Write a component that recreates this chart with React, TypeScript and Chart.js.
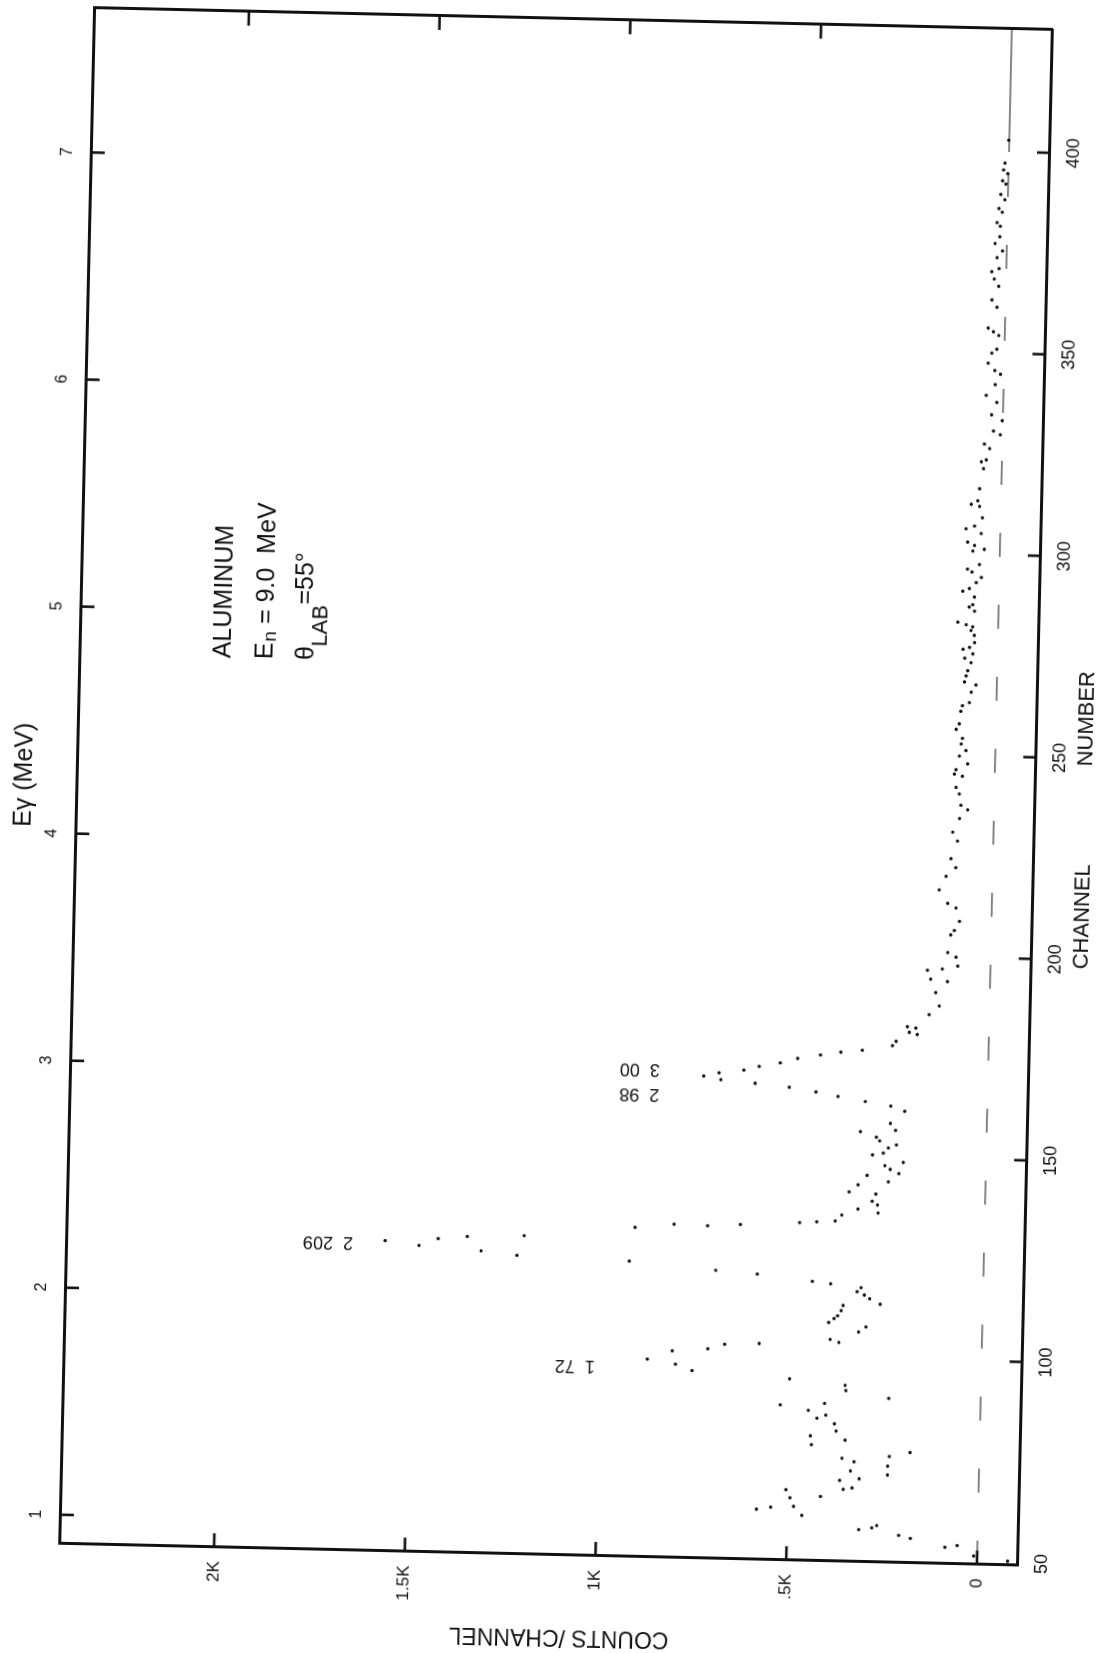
import React, { useEffect, useRef } from "react";
import { Chart, registerables } from "chart.js";

Chart.register(...registerables);

// ---- data: channel number -> counts per channel ----
// low-energy part with the 1.72, 2.209 and 2.98/3.00 MeV peaks
const PEAK_CHANNELS = [
  50.5, 51.6, 53.6, 54.1, 55.6, 56.3, 57.5, 58.0, 58.6,
  60.7, 62.0, 62.6, 62.9, 65.0, 65.5, 67.0, 67.4, 67.8, 69.6, 70.1, 71.2, 72.0, 73.4, 74.3, 75.1, 75.8, 76.9,
  78.3, 79.6, 80.5, 81.8, 83.6, 84.9, 85.7, 86.8, 88.0, 88.6, 90.2, 91.9, 93.2, 94.5, 96.0, 97.5, 98.6,
  100.8, 101.5, 102.7, 103.1, 103.8, 104.5, 106.5, 107.8, 108.7, 109.7, 110.4, 111.7, 113.0, 113.5, 114.8,
  115.7, 116.5, 117.5, 118.3, 118.8, 120.3, 121.0, 122.8, 123.6, 124.5, 125.5, 126.5, 127.3, 128.0, 128.5,
  131.2, 132.0, 132.2, 132.5, 133.3, 133.6, 133.9, 135.4, 136.1, 137.0, 138.1, 139.0, 140.8, 141.2, 143.0,
  143.9, 145.4, 146.0, 147.0, 147.9, 148.8, 150.5, 151.0, 152.3, 153.1, 154.0, 154.9, 156.2, 156.7, 158.4, 161.5,
  162.7, 163.7, 164.8, 165.8, 166.8, 167.6, 168.3, 169.1, 170.0, 170.8, 171.8, 172.8, 174.0, 175.0, 175.8,
  176.4, 177.7, 178.8,
];
const PEAK_COUNTS = [
  -80, 9, 85, 53, 176, 207, 312, 278, 265,
  462, 581, 544, 484, 494, 414, 505, 355, 332, 365, 314, 240, 337, 240, 328, 360, 236, 182,
  441, 353, 444, 377, 382, 428, 405, 451, 525, 409, 241, 354, 356, 502, 758, 802, 876,
  811, 718, 674, 584, 375, 398, 324, 305, 403, 389, 380, 371, 366, 269, 297,
  311, 330, 320, 400, 448, 593, 702, 929, 1224, 1318, 1481, 1570, 1431, 1355, 1206,
  916, 726, 814, 640, 485, 440, 392, 375, 280, 333, 282, 296, 287, 357, 334,
  255, 311, 228, 251, 265, 217, 298, 270, 257, 236, 280, 289, 331, 239, 253, 216,
  253, 320, 392, 450, 520, 610, 700, 745, 705, 640, 600, 545, 500, 440, 387,
  331, 252, 243,
];
// Compton continuum above the 3 MeV peak
const CONTINUUM_CHANNELS = [
  180.6, 181.1, 182.2, 182.5, 185.6, 187.8, 191.1, 193.9, 194.4, 196.6, 197.0, 197.8, 200.0, 201.1, 205.5,
  206.6, 208.9, 212.2, 213.3, 216.6, 220.0, 222.2, 224.4, 228.8, 231.0, 234.4, 236.6, 237.7, 240.5, 242.1,
  244.9, 245.4, 246.5, 248.0, 249.9, 251.3, 252.9, 254.3, 256.5, 257.9, 261.0, 262.4, 263.2, 265.8, 267.6,
  268.3, 269.8, 271.1, 273.1, 274.2, 275.3, 276.4, 276.9, 278.1, 279.9, 281.1, 282.0, 282.5, 283.1, 285.9,
  286.9, 287.5, 289.4, 290.8, 291.5, 293.0, 294.3, 295.6, 296.3, 297.5, 300.8, 301.3, 302.2, 303.0, 305.2,
  306.3, 307.0, 309.1, 311.9, 312.4, 313.3, 316.3, 321.3, 323.0, 323.5, 326.3, 327.4,
];
const CONTINUUM_COUNTS = [
  188, 209, 192, 214, 158, 132, 142, 112, 156, 165, 126, 86, 91, 113, 106,
  97, 84, 94, 116, 139, 122, 97, 110, 94, 107, 90, 69, 87, 92, 101,
  85, 106, 102, 72, 94, 77, 90, 87, 104, 96, 93, 89, 71, 67, 55,
  85, 81, 77, 69, 86, 65, 91, 74, 61, 62, 71, 67, 84, 106, 63,
  77, 68, 64, 95, 78, 60, 47, 72, 84, 53, 71, 41, 67, 85, 50,
  90, 68, 48, 56, 78, 61, 57, 48, 54, 41, 33, 47,
];
// high-energy tail
const TAIL_CHANNELS = [
  329.8, 330.7, 333.3, 334.7, 337.8, 339.5, 342.2, 344.8, 345.7, 347.5, 350.0, 351.0, 354.4, 355.3, 356.2,
  361.4, 363.2, 366.6, 368.4, 370.2, 371.0, 373.7, 375.4, 377.2, 378.9, 381.5, 382.4, 385.0, 385.9, 388.1,
  389.4, 392.0, 392.8, 394.6, 395.5, 397.2, 402.9,
];
const TAIL_COUNTS = [
  6, 24, 2, 30, 17, 45, 22, 9, 24, 42, 33, 20, 16, 30, 44,
  22, 36, 19, 31, 38, 19, 25, 11, 31, 19, 18, 27, 14, 23, 8,
  19, 6, 15, 2, 13, 10, 1,
];

// ---- axes ----
const CHANNEL_RANGE = [49.5, 430.5];
const COUNT_RANGE = [-105, 2406];
const CHANNEL_TICKS = [50, 100, 150, 200, 250, 300, 350, 400];
const COUNT_TICKS = [0, 500, 1000, 1500, 2000];
const COUNT_TICK_LABELS = ["0", ".5K", "1K", "1.5K", "2K"];
const ENERGY_TICKS = [1, 2, 3, 4, 5, 6, 7];
const CHANNELS_PER_MEV = 56.33;
const CHANNEL_AT_ZERO_MEV = 0.37;
const BASELINE_DASHED = [49.5, 400];
const BASELINE_SOLID = [400, 430.5];

// ---- annotations (data coordinates) ----
const PEAK_LABELS = ["2  209", "1  72", "3  00", "2  98"];
const PEAK_LABEL_CHANNELS = [125.8, 96.6, 170.5, 164.3];
const PEAK_LABEL_COUNTS = [1654, 1013, 860, 860];

const INFO_CHANNEL = 270;
const INFO_COUNTS = [2029, 1919, 1806];

const FONT = "'Liberation Sans', Arial, sans-serif";
const INK = "#111";

// ---- layout (landscape chart, rotated onto the portrait page) ----
const W = 1646;
const H = 1113;
const AXIS_LEFT = 100;
const AXIS_RIGHT = 10;
const AXIS_TOP = 90;
const AXIS_BOTTOM = 65;
const ROTATION_DEG = -88.7;
const FRAME_CENTER = [555.5, 787];

function placement() {
  const areaCx = AXIS_LEFT + (W - AXIS_LEFT - AXIS_RIGHT) / 2;
  const areaCy = AXIS_TOP + (H - AXIS_TOP - AXIS_BOTTOM) / 2;
  const du = areaCx - W / 2;
  const dv = areaCy - H / 2;
  const th = (ROTATION_DEG * Math.PI) / 180;
  const ox = du * Math.cos(th) - dv * Math.sin(th);
  const oy = du * Math.sin(th) + dv * Math.cos(th);
  const cx = FRAME_CENTER[0] - ox;
  const cy = FRAME_CENTER[1] - oy;
  return { left: cx - W / 2, top: cy - H / 2 };
}

const decorations = {
  id: "decorations",
  afterDraw(chart: any) {
    const { ctx, chartArea: a, scales } = chart;
    ctx.save();
    ctx.strokeStyle = INK;
    ctx.fillStyle = INK;
    ctx.lineWidth = 2.6;
    ctx.lineCap = "butt";
    const seg = (x1: number, y1: number, x2: number, y2: number) => {
      ctx.beginPath();
      ctx.moveTo(x1, y1);
      ctx.lineTo(x2, y2);
      ctx.stroke();
    };
    // inward tick marks
    for (const v of CHANNEL_TICKS) {
      if (v === 50) continue;
      const x = scales.x.getPixelForValue(v);
      seg(x, a.bottom, x, a.bottom - 12);
    }
    for (const v of ENERGY_TICKS) {
      const x = scales.x2.getPixelForValue(v);
      seg(x, a.top, x, a.top + 14);
    }
    for (const v of COUNT_TICKS) {
      const y = scales.y.getPixelForValue(v);
      seg(a.left, y, a.left + 14, y);
      if (v !== 0) {
        const y2 = scales.y2.getPixelForValue(v);
        seg(a.right, y2, a.right - 14, y2);
      }
    }
    // info block
    const px = scales.x.getPixelForValue(INFO_CHANNEL);
    ctx.textAlign = "left";
    ctx.textBaseline = "middle";
    ctx.font = `25px ${FONT}`;
    ctx.fillText("ALUMINUM", px, scales.y.getPixelForValue(INFO_COUNTS[0]));
    let y = scales.y.getPixelForValue(INFO_COUNTS[1]);
    let x = px;
    ctx.fillText("E", x, y);
    x += ctx.measureText("E").width;
    ctx.font = `19px ${FONT}`;
    ctx.fillText("n", x + 1, y + 5);
    x += ctx.measureText("n").width + 1;
    ctx.font = `25px ${FONT}`;
    ctx.fillText(" = 9.0  MeV", x, y);
    y = scales.y.getPixelForValue(INFO_COUNTS[2]);
    x = px;
    ctx.fillText("\u03B8", x, y - 2);
    x += ctx.measureText("\u03B8").width;
    ctx.font = `22px ${FONT}`;
    ctx.fillText("LAB", x, y + 12);
    x += ctx.measureText("LAB").width;
    ctx.font = `25px ${FONT}`;
    ctx.fillText("=55\u00B0", x, y - 4);
    // peak labels (vertical)
    ctx.font = `18px ${FONT}`;
    PEAK_LABELS.forEach((t, i) => {
      const lx = scales.x.getPixelForValue(PEAK_LABEL_CHANNELS[i]);
      const ly = scales.y.getPixelForValue(PEAK_LABEL_COUNTS[i]);
      ctx.save();
      ctx.translate(lx, ly);
      ctx.rotate(-Math.PI / 2);
      ctx.textAlign = "left";
      ctx.textBaseline = "middle";
      ctx.fillText(t, 0, 0);
      ctx.restore();
    });
    ctx.restore();
  },
};

export default function App() {
  const ref = useRef<HTMLCanvasElement | null>(null);
  useEffect(() => {
    if (!ref.current) return;
    const channels = [...PEAK_CHANNELS, ...CONTINUUM_CHANNELS, ...TAIL_CHANNELS];
    const counts = [...PEAK_COUNTS, ...CONTINUUM_COUNTS, ...TAIL_COUNTS];
    const points = channels.map((c, i) => ({ x: c, y: counts[i] }));
    const chart = new Chart(ref.current, {
      type: "scatter",
      data: {
        datasets: [
          {
            type: "line",
            data: BASELINE_DASHED.map((c) => ({ x: c, y: 0 })),
            borderColor: INK,
            borderWidth: 1,
            borderDash: [24, 48],
            pointRadius: 0,
            xAxisID: "x",
            yAxisID: "y",
          } as any,
          {
            type: "line",
            data: BASELINE_SOLID.map((c) => ({ x: c, y: 0 })),
            borderColor: INK,
            borderWidth: 1.1,
            pointRadius: 0,
            xAxisID: "x",
            yAxisID: "y",
          } as any,
          {
            data: points,
            pointRadius: 1.7,
            pointBackgroundColor: INK,
            pointBorderWidth: 0,
            showLine: false,
            xAxisID: "x",
            yAxisID: "y",
          },
        ],
      },
      options: {
        responsive: false,
        animation: false,
        events: [],
        layout: { padding: 0, autoPadding: false } as any,
        plugins: {
          legend: { display: false },
          tooltip: { enabled: false },
          title: { display: false },
        },
        scales: {
          x: {
            type: "linear",
            position: "bottom",
            min: CHANNEL_RANGE[0],
            max: CHANNEL_RANGE[1],
            afterBuildTicks: (s: any) => {
              s.ticks = CHANNEL_TICKS.map((v) => ({ value: v }));
            },
            afterFit: (s: any) => {
              s.height = AXIS_BOTTOM;
            },
            grid: { display: false, drawTicks: false },
            border: { display: true, color: INK, width: 3 },
            ticks: {
              color: INK,
              font: { family: FONT, size: 18 },
              padding: 14,
              maxRotation: 0,
              autoSkip: false,
              callback: (v: any) => String(v),
            },
            title: {
              display: true,
              text: "CHANNEL" + " ".repeat(16) + "NUMBER" + " ".repeat(7),
              color: INK,
              font: { family: FONT, size: 22 },
              padding: { top: 0, bottom: 1 },
            },
          },
          x2: {
            type: "linear",
            position: "top",
            min: (CHANNEL_RANGE[0] - CHANNEL_AT_ZERO_MEV) / CHANNELS_PER_MEV,
            max: (CHANNEL_RANGE[1] - CHANNEL_AT_ZERO_MEV) / CHANNELS_PER_MEV,
            afterBuildTicks: (s: any) => {
              s.ticks = ENERGY_TICKS.map((v) => ({ value: v }));
            },
            afterFit: (s: any) => {
              s.height = AXIS_TOP;
            },
            grid: { display: false, drawTicks: false },
            border: { display: true, color: INK, width: 3 },
            ticks: {
              color: INK,
              font: { family: FONT, size: 16 },
              padding: 14,
              maxRotation: 0,
              autoSkip: false,
              callback: (v: any) => String(v),
            },
            title: {
              display: true,
              text: "E\u03B3 (MeV)",
              color: INK,
              font: { family: FONT, size: 25 },
              padding: { top: 23, bottom: 0 },
            },
          },
          y: {
            type: "linear",
            position: "left",
            min: COUNT_RANGE[0],
            max: COUNT_RANGE[1],
            afterBuildTicks: (s: any) => {
              s.ticks = COUNT_TICKS.map((v) => ({ value: v }));
            },
            afterFit: (s: any) => {
              s.width = AXIS_LEFT;
            },
            grid: { display: false, drawTicks: false },
            border: { display: true, color: INK, width: 3 },
            ticks: {
              color: INK,
              font: { family: FONT, size: 17 },
              padding: 14,
              autoSkip: false,
              callback: (v: any) => COUNT_TICK_LABELS[COUNT_TICKS.indexOf(Number(v))],
            },
            title: {
              display: true,
              text: "COUNTS /CHANNEL" + " ".repeat(7),
              color: INK,
              font: { family: FONT, size: 23 },
              padding: { top: 5, bottom: 0 },
            },
          },
          y2: {
            type: "linear",
            position: "right",
            min: COUNT_RANGE[0],
            max: COUNT_RANGE[1],
            afterFit: (s: any) => {
              s.width = AXIS_RIGHT;
            },
            grid: { display: false, drawTicks: false },
            border: { display: true, color: INK, width: 3 },
            ticks: { display: false },
          },
        },
      },
      plugins: [decorations],
    } as any);
    return () => chart.destroy();
  }, []);

  const pos = placement();
  return (
    <div
      style={{
        position: "fixed",
        left: 0,
        top: 0,
        width: 1113,
        height: 1653,
        overflow: "hidden",
        background: "#fff",
      }}
    >
      <div
        style={{
          position: "absolute",
          left: pos.left,
          top: pos.top,
          width: W,
          height: H,
          transform: `rotate(${ROTATION_DEG}deg)`,
          transformOrigin: "50% 50%",
        }}
      >
        <canvas ref={ref} width={W} height={H} style={{ width: W, height: H, display: "block" }} />
      </div>
    </div>
  );
}
